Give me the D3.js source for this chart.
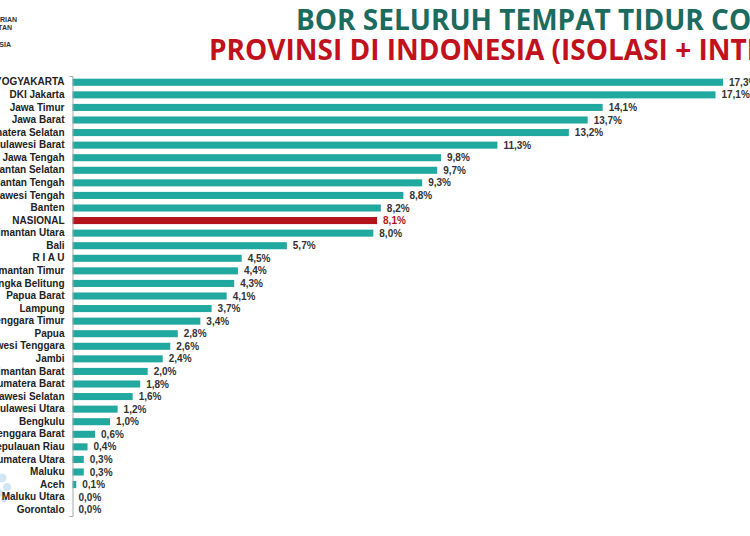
<!DOCTYPE html>
<html>
<head>
<meta charset="utf-8">
<script src="https://cdn.jsdelivr.net/npm/d3@7"></script>
<style>
  html, body { margin: 0; padding: 0; background: #fff; overflow: hidden; }
  svg { display: block; }
</style>
</head>
<body>
<svg id="chart" width="750" height="536"></svg>
<script>
const provinces = [
  "DI YOGYAKARTA", "DKI Jakarta", "Jawa Timur", "Jawa Barat", "Sumatera Selatan",
  "Sulawesi Barat", "Jawa Tengah", "Kalimantan Selatan", "Kalimantan Tengah", "Sulawesi Tengah",
  "Banten", "NASIONAL", "Kalimantan Utara", "Bali", "R I A U",
  "Kalimantan Timur", "Kep. Bangka Belitung", "Papua Barat", "Lampung", "Nusa Tenggara Timur",
  "Papua", "Sulawesi Tenggara", "Jambi", "Kalimantan Barat", "Sumatera Barat",
  "Sulawesi Selatan", "Sulawesi Utara", "Bengkulu", "Nusa Tenggara Barat", "Kepulauan Riau",
  "Sumatera Utara", "Maluku", "Aceh", "Maluku Utara", "Gorontalo"
];
const borValues = [
  17.3, 17.1, 14.1, 13.7, 13.2,
  11.3, 9.8, 9.7, 9.3, 8.8,
  8.2, 8.1, 8.0, 5.7, 4.5,
  4.4, 4.3, 4.1, 3.7, 3.4,
  2.8, 2.6, 2.4, 2.0, 1.8,
  1.6, 1.2, 1.0, 0.6, 0.4,
  0.3, 0.3, 0.1, 0.0, 0.0
];
const highlight = "NASIONAL";
const titleLine1 = "BOR SELURUH TEMPAT TIDUR COVID-19";
const titleLine2 = "PROVINSI DI INDONESIA (ISOLASI + INTENSIF)";
const logoLines = ["KEMENTERIAN", "KESEHATAN", "REPUBLIK INDONESIA"];

const data = provinces.map((p, i) => ({ name: p, value: borValues[i] }));

const svg = d3.select("#chart");
const plotLeft = 72.5, plotTop = 76, plotBottom = 516;
const x = d3.scaleLinear().domain([0, 17.3]).range([plotLeft, 723]);
const y = d3.scaleBand().domain(provinces).range([plotTop, plotBottom]).paddingInner(0.44).paddingOuter(0.22);

const teal = "#21a89f", red = "#b3121b";

// faint top band line
svg.append("line").attr("x1", 72).attr("x2", 750).attr("y1", 78.5).attr("y2", 78.5)
  .attr("stroke", "#e2f7f8").attr("stroke-width", 1.5);

// decorative circles bottom-left
[[2, 478, 4.5], [7, 487, 4], [0, 493, 3.5], [4, 500, 2.5]].forEach(c => {
  svg.append("circle").attr("cx", c[0]).attr("cy", c[1]).attr("r", c[2]).attr("fill", "#c6e0f3").attr("opacity", 0.8);
});

// logo text (cropped)
const logoY = [22, 30, 47];
const logoX = [17, 12, 11];
logoLines.forEach((t, i) => {
  svg.append("text").attr("x", logoX[i]).attr("y", logoY[i]).attr("text-anchor", "end")
    .attr("font-family", "Liberation Sans, Arial, sans-serif").attr("font-weight", "bold")
    .attr("font-size", 7).attr("fill", "#333").text(t);
});

// titles
svg.append("text").attr("x", 296).attr("y", 30)
  .attr("font-family", "Open Sans, sans-serif").attr("font-weight", "bold")
  .attr("font-size", 28).attr("fill", "#1c6b5f").text(titleLine1);
svg.append("text").attr("x", 209).attr("y", 60)
  .attr("font-family", "Open Sans, sans-serif").attr("font-weight", "bold")
  .attr("font-size", 28).attr("fill", "#c0111c").text(titleLine2);

// bars
svg.append("g").selectAll("rect").data(data).join("rect")
  .attr("x", x(0))
  .attr("y", d => y(d.name))
  .attr("width", d => x(d.value) - x(0))
  .attr("height", y.bandwidth())
  .attr("fill", d => d.name === highlight ? red : teal);

// value labels
svg.append("g").selectAll("text").data(data).join("text")
  .attr("x", d => x(d.value) + 6)
  .attr("y", d => y(d.name) + y.bandwidth() / 2)
  .attr("dy", "0.36em")
  .attr("font-family", "Liberation Sans, Arial, sans-serif")
  .attr("font-weight", "bold").attr("font-size", 10)
  .attr("fill", d => d.name === highlight ? red : "#333")
  .text(d => d.value.toFixed(1).replace(".", ",") + "%");

// axis
const axis = svg.append("g").attr("transform", `translate(${plotLeft},0)`)
  .call(d3.axisLeft(y).tickSizeInner(0).tickSizeOuter(3).tickPadding(8));
axis.select(".domain").attr("stroke", "#a9a9a9");
axis.selectAll("text")
  .attr("font-family", "Liberation Sans, Arial, sans-serif")
  .attr("font-weight", "bold").attr("font-size", 10).attr("fill", "#222");
</script>
</body>
</html>
